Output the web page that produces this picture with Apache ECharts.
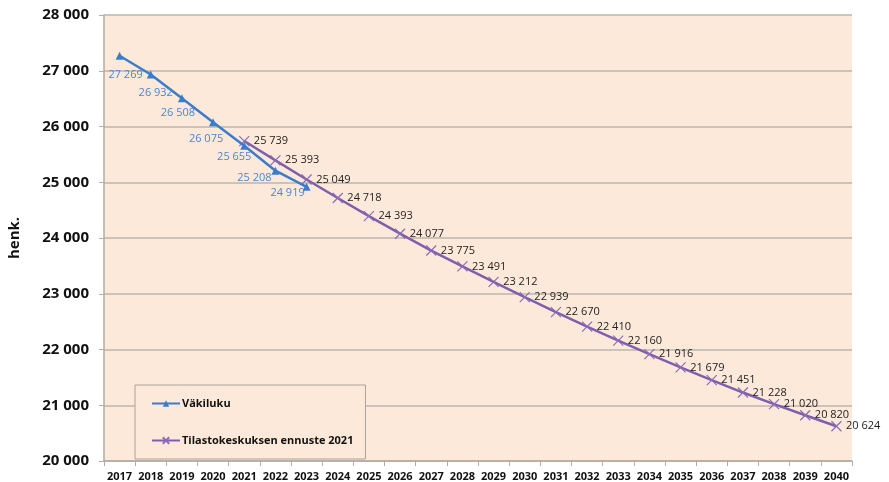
<!DOCTYPE html>
<html><head><meta charset="utf-8">
<script src="https://cdn.jsdelivr.net/npm/echarts@6/dist/echarts.min.js"></script>
<style>html,body{margin:0;padding:0;background:#fff}#c{width:889px;height:482px}</style>
</head><body><div id="c"></div>
<script>
var years = ['2017','2018','2019','2020','2021','2022','2023','2024','2025','2026','2027','2028','2029','2030','2031','2032','2033','2034','2035','2036','2037','2038','2039','2040'];
var vakiluku = [27269, 26932, 26508, 26075, 25655, 25208, 24919];
var ennuste = [25739, 25393, 25049, 24718, 24393, 24077, 23775, 23491, 23212, 22939, 22670, 22410, 22160, 21916, 21679, 21451, 21228, 21020, 20820, 20624];
var ennusteStart = 2021;
var seriesNames = ['Väkiluku', 'Tilastokeskuksen ennuste 2021'];
var yMin = 20000, yMax = 28000, yStep = 1000;
// style only: label nudges (px) for the Väkiluku labels
var blueLabelShift = [[6,19],[5,18],[-4,15],[-7,17],[-10,11],[-21,7],[-19,6]];

function fmt(v){ return String(v).replace(/\B(?=(\d{3})+(?!\d))/g, ' '); }

var blueData = years.map(function(y, i){
  if (i >= vakiluku.length) return null;
  return { value: vakiluku[i], label: { offset: blueLabelShift[i] } };
});
var purpleData = years.map(function(y){
  var k = parseInt(y,10) - ennusteStart;
  return (k >= 0 && k < ennuste.length) ? ennuste[k] : null;
});

var chart = echarts.init(document.getElementById('c'), null, {renderer:'canvas'});
chart.setOption({
  animation: false,
  backgroundColor: '#ffffff',
  grid: { left: 104, right: 37, top: 15, bottom: 21, show: true, backgroundColor: '#fde9da', borderWidth: 0, containLabel: false, outerBoundsMode: 'none' },
  xAxis: {
    type: 'category', data: years, boundaryGap: true,
    axisLine: { show: true, lineStyle: { color: '#b3aba4', width: 1.5 } },
    axisTick: { show: true, length: 5, lineStyle: { color: '#b3aba4' } },
    axisLabel: { color: '#111', fontWeight: 'bold', fontSize: 11, fontFamily: 'Open Sans', margin: 10, interval: 0 }
  },
  yAxis: {
    type: 'value', min: yMin, max: yMax, interval: yStep,
    name: 'henk.', nameLocation: 'middle', nameGap: 82, nameRotate: 90,
    nameTextStyle: { color: '#111', fontWeight: 'bold', fontSize: 15, fontFamily: 'Open Sans' },
    axisLine: { show: true, lineStyle: { color: '#b3aba4', width: 1.5 } },
    axisTick: { show: true, length: 5, lineStyle: { color: '#b3aba4' } },
    splitLine: { show: true, lineStyle: { color: '#bdb4ac', width: 1.5 } },
    axisLabel: { color: '#111', fontWeight: 'bold', fontSize: 15, fontFamily: 'Open Sans', margin: 15, formatter: fmt }
  },
  legend: {
    orient: 'vertical', left: 135, top: 385, itemGap: 26,
    padding: [13, 12, 13, 16],
    borderColor: '#a9a29c', borderWidth: 1, backgroundColor: '#fde9da',
    itemWidth: 28, itemHeight: 8,
    textStyle: { color: '#111', fontWeight: 'bold', fontSize: 11, fontFamily: 'Open Sans', padding: [0, 0, 0, -3] },
    data: seriesNames
  },
  series: [
    {
      name: seriesNames[0], type: 'line', data: blueData, connectNulls: false,
      symbol: 'triangle', symbolSize: 8,
      lineStyle: { color: '#3b7ccb', width: 2.5 },
      itemStyle: { color: '#3b7ccb' },
      label: { show: true, position: 'inside', color: '#4a86d0', fontSize: 11, fontFamily: 'Open Sans', formatter: function(p){ return fmt(p.value); } },
      z: 3
    },
    {
      name: seriesNames[1], type: 'line', data: purpleData, connectNulls: false,
      symbol: 'path://M0,0L10,10M10,0L0,10', symbolSize: 10, symbolKeepAspect: true,
      lineStyle: { color: '#7d5fab', width: 2.5 },
      itemStyle: { color: 'rgba(0,0,0,0)', borderColor: '#8a6cb6', borderWidth: 1.2 },
      label: { show: true, position: 'right', distance: 4, color: '#222', fontSize: 11, fontFamily: 'Open Sans', formatter: function(p){ return fmt(p.value); } },
      z: 2
    }
  ]
});
</script></body></html>
